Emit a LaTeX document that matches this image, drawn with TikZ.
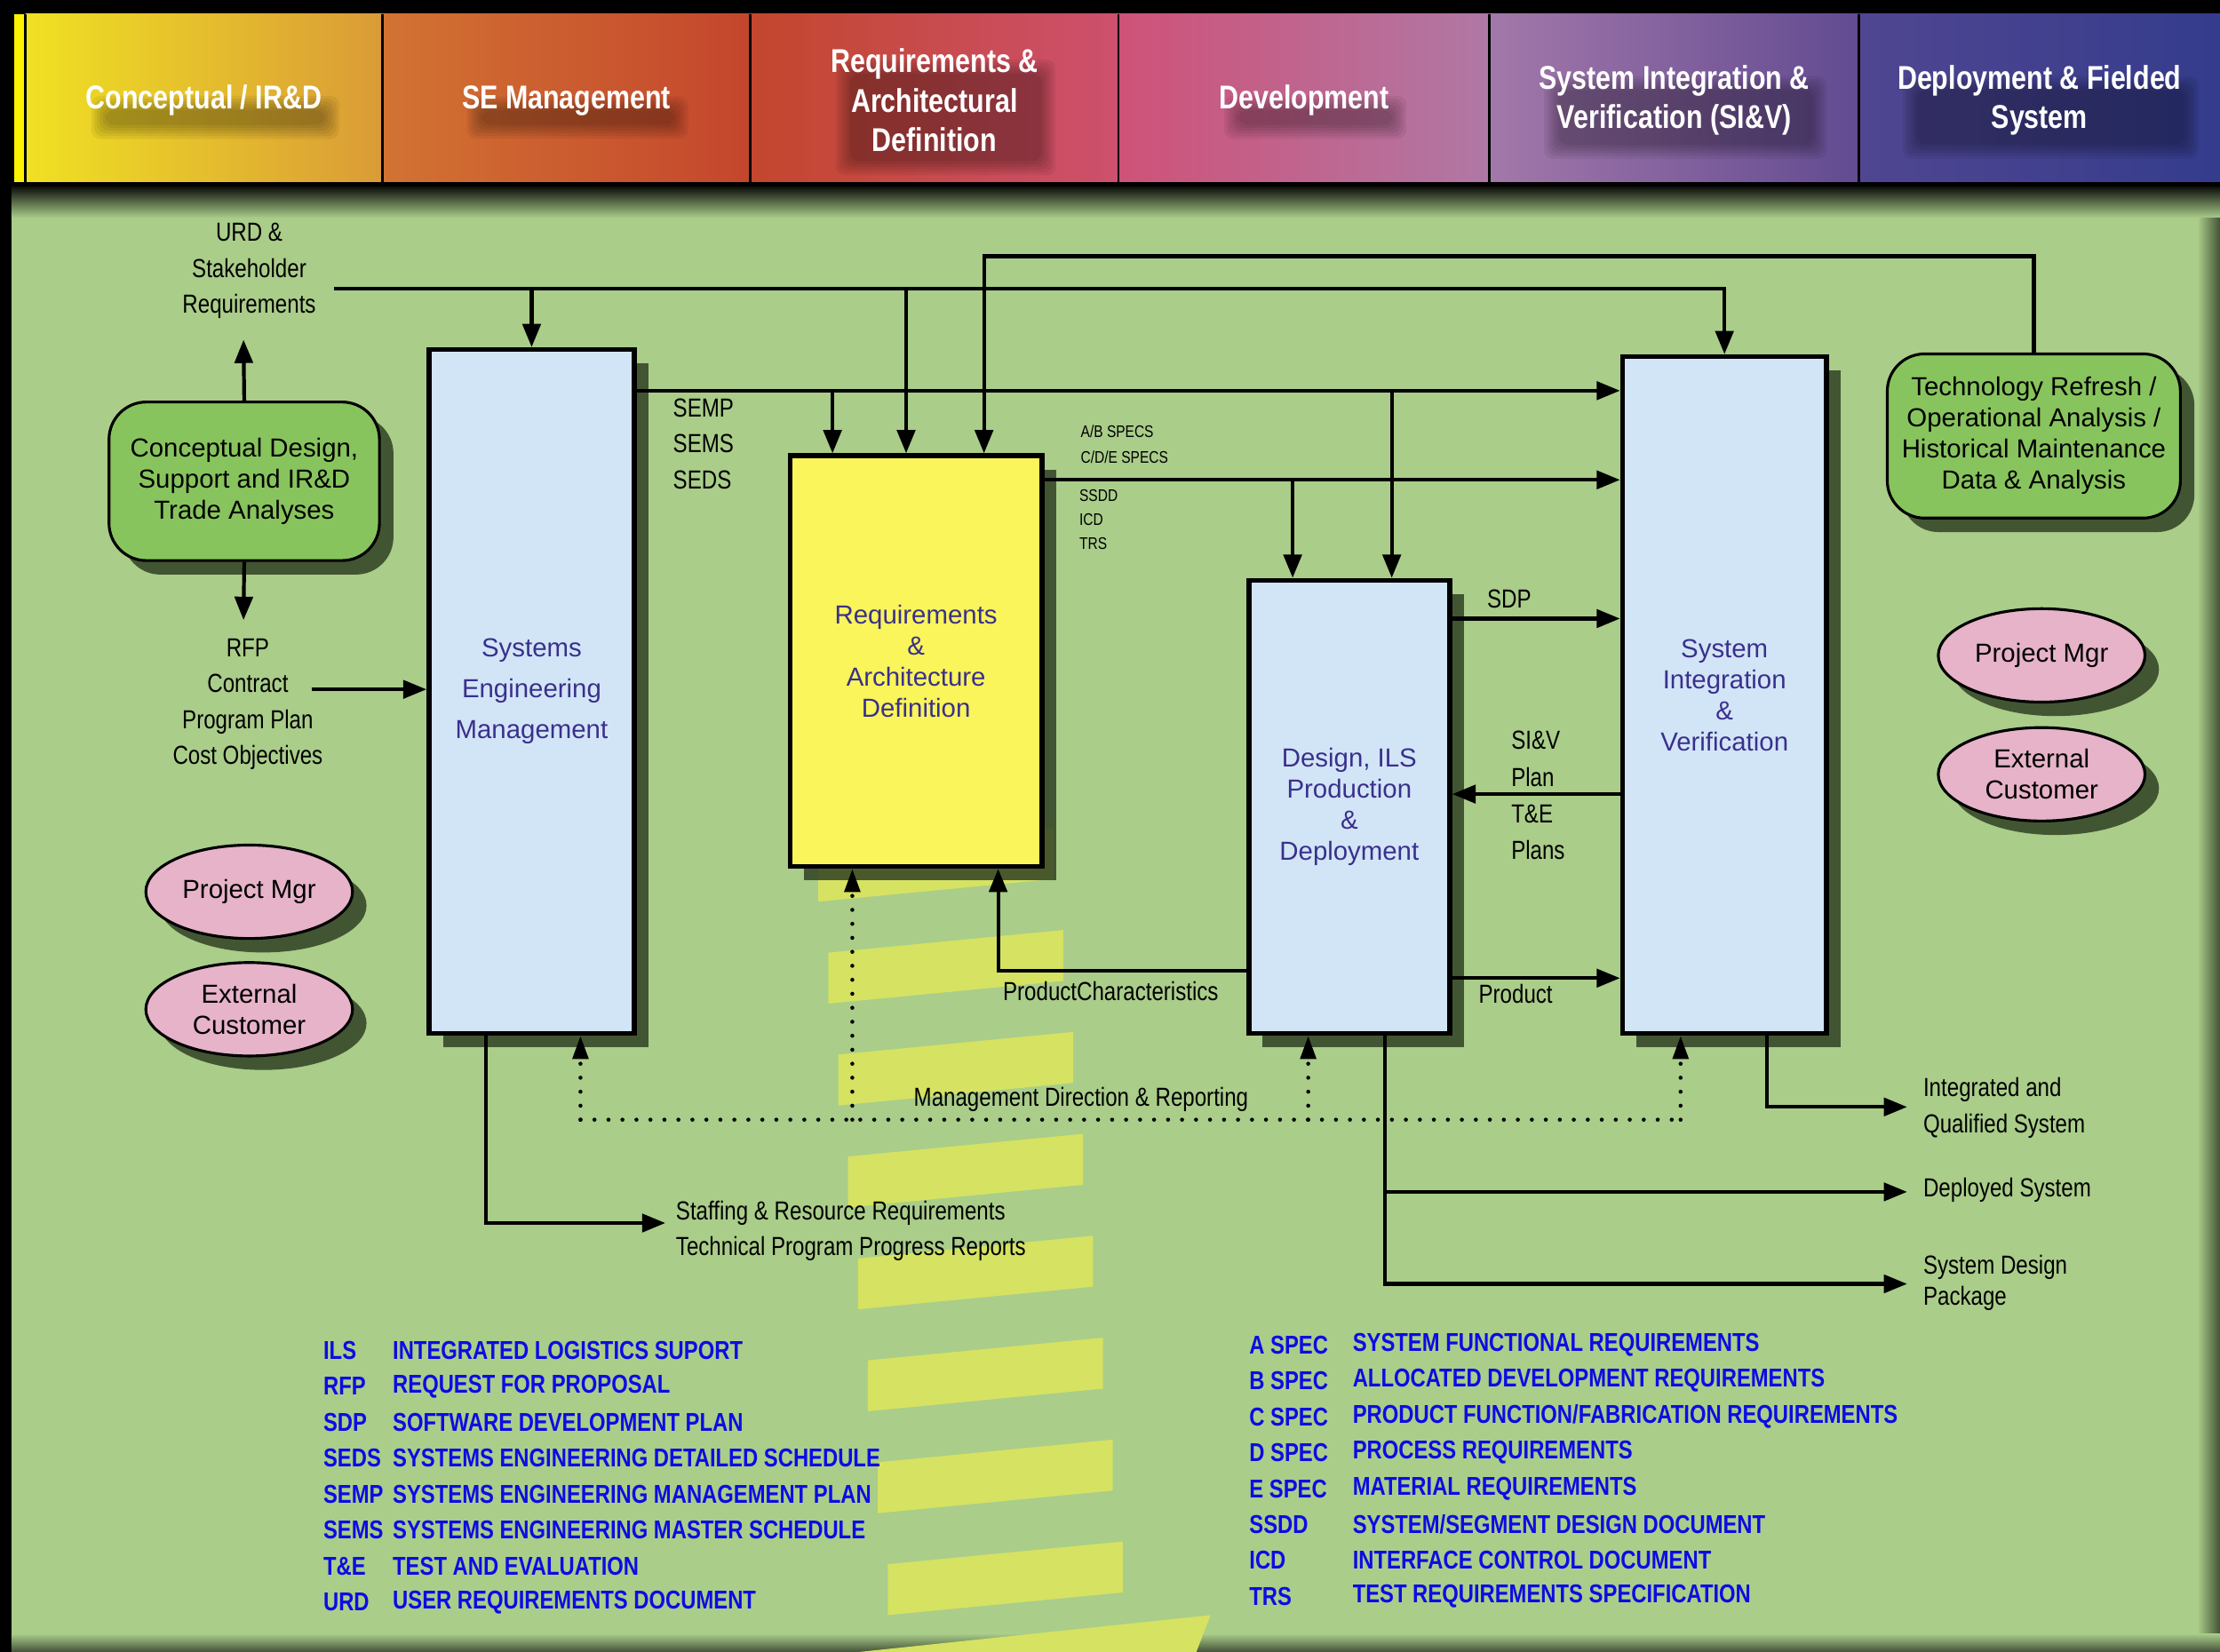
\documentclass[tikz,border=0pt]{standalone}
\usepackage{fontspec}
\setmainfont{Liberation Sans}
\newfontfamily\narrowfont[FakeStretch=0.82]{Liberation Sans}
\usetikzlibrary{arrows.meta,shapes.geometric,shadows}

\newcommand{\pxu}{0.016cm}

\definecolor{bggreen}{RGB}{170,205,138}
\definecolor{boxblue}{RGB}{210,229,247}
\definecolor{boxyellow}{RGB}{249,245,90}
\definecolor{cdgreen}{RGB}{136,196,94}
\definecolor{pinkfill}{RGB}{230,179,200}
\definecolor{labelblue}{RGB}{58,48,140}
\definecolor{legendblue}{RGB}{12,12,228}
\definecolor{barfill}{RGB}{213,226,98}
\definecolor{shadowc}{RGB}{40,55,30}
\definecolor{hdl1}{RGB}{240,225,35}  \definecolor{hdr1}{RGB}{218,155,55}
\definecolor{hdl2}{RGB}{210,115,50}  \definecolor{hdr2}{RGB}{196,70,45}
\definecolor{hdl3}{RGB}{195,70,45}   \definecolor{hdr3}{RGB}{205,80,110}
\definecolor{hdl4}{RGB}{207,82,120}  \definecolor{hdr4}{RGB}{176,120,165}
\definecolor{hdl5}{RGB}{163,120,170} \definecolor{hdr5}{RGB}{98,75,145}
\definecolor{hdl6}{RGB}{80,70,145}   \definecolor{hdr6}{RGB}{52,60,140}

\pgfdeclarelayer{back}
\pgfdeclarelayer{blur}
\pgfsetlayers{back,blur,main}

\tikzset{
  phasetext/.style={text=white, align=center, inner sep=0pt,
    font=\narrowfont\bfseries\fontsize{10.6}{12.7}\selectfont},
  procbox/.style={rectangle, draw, line width=1.6pt, fill=boxblue, text=labelblue,
    align=center, inner sep=0pt, font=\rmfamily\fontsize{8.4}{10}\selectfont,
    drop shadow={shadow xshift=4.5pt, shadow yshift=-4.5pt, fill=shadowc, opacity=.8}},
  roundbox/.style={rectangle, rounded corners=12pt, draw, line width=0.9pt, fill=cdgreen,
    align=center, inner sep=0pt, font=\rmfamily\fontsize{8.4}{10}\selectfont,
    drop shadow={shadow xshift=4.5pt, shadow yshift=-4.5pt, fill=shadowc, opacity=.8}},
  pmbox/.style={ellipse, draw, line width=0.9pt, fill=pinkfill, align=center, inner sep=0pt,
    minimum width=146*\pxu, minimum height=66*\pxu, font=\rmfamily\fontsize{8.4}{10}\selectfont,
    drop shadow={shadow xshift=4.5pt, shadow yshift=-4.5pt, fill=shadowc, opacity=.8}},
  legend/.style={anchor=west, inner sep=0pt, text=legendblue,
    font=\narrowfont\bfseries\fontsize{8.3}{10}\selectfont}
}

\begin{document}
\begin{tikzpicture}[x=0.016cm, y=-0.016cm, font=\narrowfont\fontsize{8.4}{11.6}\selectfont,
  ln/.style={line width=1.2pt},
  arr/.style={line width=1.2pt, -{Triangle[length=7.5pt,width=5.8pt]}},
  dots/.style={line width=1.3pt, dash pattern=on 0pt off 4.5pt, line cap=round},
  dotarr/.style={dots, -{Triangle[length=7.5pt,width=5pt]}},
  lbl/.style={anchor=west, align=left, inner sep=0pt},
  clbl/.style={align=center, inner sep=0pt}]
	\useasboundingbox (0,0) rectangle (1568,1167);
	\begin{pgfonlayer}{back}
		%background
		\fill[black] (0,0) rectangle (1568,1167);
		\fill[bggreen] (8,130) rectangle (1568,1167);
		\shade[top color=black, bottom color=bggreen] (8,130) rectangle (1568,154);
		\shade[left color=bggreen, right color=black!60!bggreen] (1552,154) rectangle (1568,1167);
		\shade[top color=bggreen, bottom color=black!60!bggreen] (8,1154) rectangle (1568,1167);
		%stripes
		\foreach \i in {0,...,7}
		\fill[barfill] ({578+7*\i},{601+72*\i}) -- ({744+7*\i},{585+72*\i})
		-- ({744+7*\i},{621+72*\i}) -- ({578+7*\i},{637+72*\i}) -- cycle;
		\fill[barfill] (607,1167) -- (855,1141) -- (845,1167) -- cycle;
		%phase colours
		\fill[yellow] (10,10) rectangle (18,130);
		\foreach \xa/\xb [count=\i] in {18/270, 270/530, 530/790, 790/1052, 1052/1313, 1313/1568}
		\shade[left color=hdl\i, right color=hdr\i] (\xa,10) rectangle (\xb,130);
	\end{pgfonlayer}
	%phases
	\foreach \xa/\xb/\txt [count=\i] in {
		18/270/{Conceptual / IR\&D},
		270/530/{SE Management},
		530/790/{Requirements \&\\Architectural\\Definition},
		790/1052/{Development},
		1052/1313/{System Integration \&\\Verification (SI\&V)},
		1313/1568/{Deployment \& Fielded\\System}}
	{
		\draw[line width=0.8pt] (\xa,10) -- (\xa,130);
		\node[phasetext] (h\i) at ({(\xa+\xb)/2},71) {\txt};
		\begin{pgfonlayer}{blur}
			\foreach \k in {0,...,5}
			\fill[black, opacity=.06, rounded corners=3pt]
			([shift={({4+2*\k},{8+2*\k})}]h\i.north west) rectangle
			([shift={({12-2*\k},{16-2*\k})}]h\i.south east);
		\end{pgfonlayer}
	}
	\draw[line width=1.5pt] (10,130) -- (1568,130);
	%boxes
	\node[procbox, minimum width=145*\pxu, minimum height=483*\pxu,
	font=\rmfamily\fontsize{8.4}{13.2}\selectfont] (sem) at (375.5,488.5) {Systems\\Engineering\\Management};
	\node[procbox, fill=boxyellow, minimum width=178*\pxu, minimum height=290*\pxu] (rad) at (647,467) {Requirements\\\&\\Architecture\\Definition};
	\node[procbox, minimum width=142*\pxu, minimum height=320*\pxu] (des) at (953,570) {Design, ILS\\Production\\\&\\Deployment};
	\node[procbox, minimum width=144*\pxu, minimum height=478*\pxu] (siv) at (1218,491) {System\\Integration\\\&\\Verification};
	\node[roundbox, minimum width=191*\pxu, minimum height=112*\pxu] (cds) at (172.5,340) {Conceptual Design,\\Support and IR\&D\\Trade Analyses};
	\node[roundbox, minimum width=207*\pxu, minimum height=116*\pxu] (tech) at (1436.5,308) {Technology Refresh /\\Operational Analysis /\\Historical Maintenance\\Data \& Analysis};
	\node[pmbox] (pm1) at (176,630) {Project Mgr};
	\node[pmbox] (ec1) at (176,713) {External\\Customer};
	\node[pmbox] (pm2) at (1442,463) {Project Mgr};
	\node[pmbox] (ec2) at (1442,547) {External\\Customer};
	%inputs
	\node[clbl] (urd) at (176,191.5) {URD \&\\Stakeholder\\Requirements};
	\node[clbl] (rfp) at (175,497.5) {RFP\\Contract\\Program Plan\\Cost Objectives};
	\coordinate (c0) at (172,240);
	\coordinate (c1) at (172,438);
	\draw[arr] (cds.north) -- (c0);
	\draw[arr] (cds.south) -- (c1);
	\coordinate (r0) at (220,487);
	\draw[arr] (r0) -- (sem.west |- r0);
	%flows
	\coordinate (u0) at (236,204);
	\draw[arr] (u0) -| (siv.north);
	\draw[arr] (u0 -| sem.north) -- (sem.north);
	\coordinate (u1) at (640,204);
	\draw[arr] (u1) -- (u1 |- rad.north);
	\coordinate (t0) at (695,181);
	\draw[arr] (tech.north) |- (t0) -- (t0 |- rad.north);
	\coordinate (s0) at (588,276);
	\draw[arr] (sem.east |- s0) -- (siv.west |- s0);
	\draw[arr] (s0) -- (s0 |- rad.north);
	\coordinate (s1) at (983,276);
	\draw[arr] (s1) -- (s1 |- des.north);
	\coordinate (a0) at (913,339);
	\draw[arr] (rad.east |- a0) -- (siv.west |- a0);
	\draw[arr] (a0) -- (a0 |- des.north);
	\coordinate (d0) at (1085,437);
	\draw[arr] (des.east |- d0) -- (siv.west |- d0);
	\coordinate (d1) at (1085,561);
	\draw[arr] (siv.west |- d1) -- (des.east |- d1);
	\coordinate (d2) at (1085,691);
	\draw[arr] (des.east |- d2) -- (siv.west |- d2);
	\coordinate (p0) at (705,686);
	\draw[arr] (des.west |- p0) -- (p0) -- (p0 |- rad.south);
	%outputs
	\coordinate (st0) at (343,864);
	\coordinate (st1) at (470,864);
	\draw[arr] (st0 |- sem.south) -- (st0) -- (st1);
	\coordinate (oe) at (1347,0);
	\coordinate (o0) at (1248,782);
	\coordinate (o1) at (978,842);
	\coordinate (o2) at (978,907);
	\draw[arr] (o0 |- siv.south) -- (o0) -- (oe |- o0);
	\draw[arr] (o1 |- des.south) -- (o2) -- (oe |- o2);
	\draw[arr] (o1) -- (oe |- o1);
	%management
	\coordinate (m1) at (410,791);
	\coordinate (m2) at (602,791);
	\coordinate (m3) at (924,791);
	\coordinate (m4) at (1187,791);
	\draw[dots] (m1) -- (m4);
	\foreach \m/\b in {m1/sem, m2/rad, m3/des, m4/siv}
	\draw[dotarr] (\m) -- (\m |- \b.south);
	%labels
	\node[lbl] (semp) at (475,313.5) {SEMP\\SEMS\\SEDS};
	\node[lbl, font=\narrowfont\fontsize{5.4}{8.2}\selectfont] (abspec) at (763,314) {A/B SPECS\\C/D/E SPECS};
	\node[lbl, font=\narrowfont\fontsize{5.4}{7.7}\selectfont] (ssdd) at (762,367) {SSDD\\ICD\\TRS};
	\node[lbl] (sdp) at (1050,423) {SDP};
	\node[lbl, font=\narrowfont\fontsize{8.4}{11.8}\selectfont] (sivp) at (1067,562) {SI\&V\\Plan\\T\&E\\Plans};
	\node[lbl] (prod) at (1044,702) {Product};
	\node[lbl] (pchar) at (708,700) {ProductCharacteristics};
	\node[lbl] (mdr) at (645,777) {Management Direction \& Reporting};
	\node[lbl] (staff) at (477,869.5) {Staffing \& Resource Requirements\\Technical Program Progress Reports};
	\node[lbl] (iqs) at (1358,782.5) {Integrated and\\Qualified System};
	\node[lbl] (dep) at (1358,841) {Deployed System};
	\node[lbl, font=\narrowfont\fontsize{8.4}{10}\selectfont] (sdpk) at (1358,906) {System Design\\Package};
	%legend
	\foreach \ab/\txt [count=\i] in {
		ILS/INTEGRATED LOGISTICS SUPORT,
		RFP/REQUEST FOR PROPOSAL,
		SDP/SOFTWARE DEVELOPMENT PLAN,
		SEDS/SYSTEMS ENGINEERING DETAILED SCHEDULE,
		SEMP/SYSTEMS ENGINEERING MANAGEMENT PLAN,
		SEMS/SYSTEMS ENGINEERING MASTER SCHEDULE,
		T\&E/TEST AND EVALUATION,
		URD/USER REQUIREMENTS DOCUMENT}
	{
		\node[legend] (la\i) at (228,{954+25.4*(\i-1)}) {\ab};
		\node[legend] (ld\i) at (277,{954+25.4*(\i-1)}) {\txt};
	}
	\foreach \ab/\txt [count=\i] in {
		A SPEC/SYSTEM FUNCTIONAL REQUIREMENTS,
		B SPEC/ALLOCATED DEVELOPMENT REQUIREMENTS,
		C SPEC/{PRODUCT FUNCTION/FABRICATION REQUIREMENTS},
		D SPEC/PROCESS REQUIREMENTS,
		E SPEC/MATERIAL REQUIREMENTS,
		SSDD/{SYSTEM/SEGMENT DESIGN DOCUMENT},
		ICD/INTERFACE CONTROL DOCUMENT,
		TRS/TEST REQUIREMENTS SPECIFICATION}
	{
		\node[legend] (ra\i) at (882,{950+25.4*(\i-1)}) {\ab};
		\node[legend] (rd\i) at (955,{950+25.4*(\i-1)}) {\txt};
	}
\end{tikzpicture}
\end{document}
